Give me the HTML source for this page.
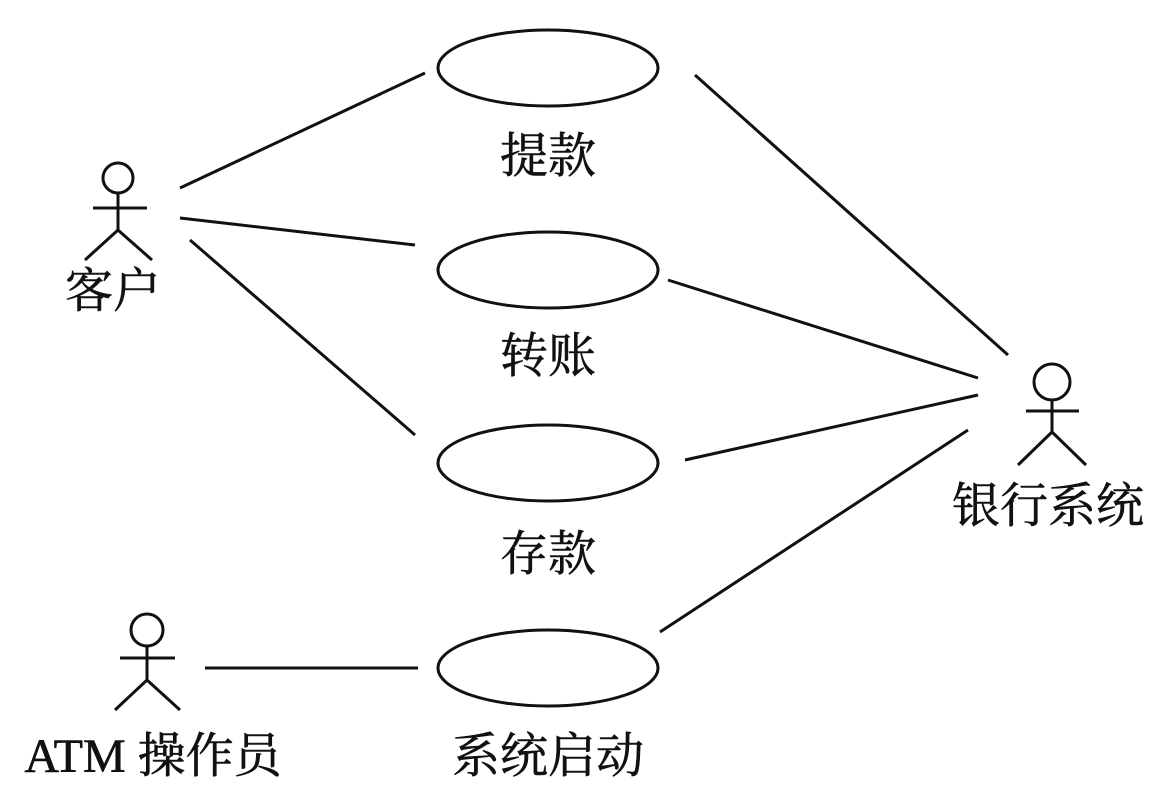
<!DOCTYPE html>
<html><head><meta charset="utf-8"><style>
html,body{margin:0;padding:0;background:#fff;}
svg{display:block;}
text{font-family:"Liberation Serif","Noto Serif CJK SC",serif;font-size:48px;fill:#111;stroke:#111;stroke-width:0.6;}
</style></head><body>
<svg width="1161" height="793" viewBox="0 0 1161 793" xmlns="http://www.w3.org/2000/svg">
<g stroke="#111" stroke-width="3" fill="none">
<ellipse cx="548" cy="68" rx="110" ry="38"/>
<ellipse cx="548" cy="270" rx="110" ry="38"/>
<ellipse cx="548" cy="463" rx="110" ry="38"/>
<ellipse cx="548" cy="668" rx="110" ry="38"/>
<line x1="180" y1="188" x2="425" y2="73"/>
<line x1="180" y1="218" x2="415" y2="245"/>
<line x1="190" y1="240" x2="415" y2="435"/>
<line x1="695" y1="75" x2="1008" y2="355"/>
<line x1="668" y1="280" x2="978" y2="378"/>
<line x1="685" y1="460" x2="978" y2="395"/>
<line x1="660" y1="632" x2="968" y2="430"/>
<line x1="205" y1="668" x2="418" y2="668"/>
<circle cx="118" cy="178" r="15"/>
<line x1="118" y1="193" x2="118" y2="230"/>
<line x1="93" y1="208" x2="147" y2="208"/>
<line x1="118" y1="230" x2="85" y2="260"/>
<line x1="118" y1="230" x2="152" y2="260"/>
<circle cx="1052" cy="382" r="18"/>
<line x1="1052" y1="400" x2="1052" y2="432"/>
<line x1="1026" y1="411" x2="1079" y2="411"/>
<line x1="1052" y1="432" x2="1018" y2="465"/>
<line x1="1052" y1="432" x2="1086" y2="465"/>
<circle cx="147" cy="630" r="16"/>
<line x1="147" y1="646" x2="147" y2="680"/>
<line x1="120" y1="658" x2="175" y2="658"/>
<line x1="147" y1="680" x2="115" y2="710"/>
<line x1="147" y1="680" x2="180" y2="710"/>
</g>
<text x="548" y="172" text-anchor="middle">提款</text>
<text x="548" y="372" text-anchor="middle">转账</text>
<text x="548" y="570" text-anchor="middle">存款</text>
<text x="548" y="772" text-anchor="middle">系统启动</text>
<text x="113" y="307" text-anchor="middle">客户</text>
<text x="1048" y="522" text-anchor="middle">银行系统</text>
<text x="153" y="772" text-anchor="middle">ATM 操作员</text>
</svg>
</body></html>
